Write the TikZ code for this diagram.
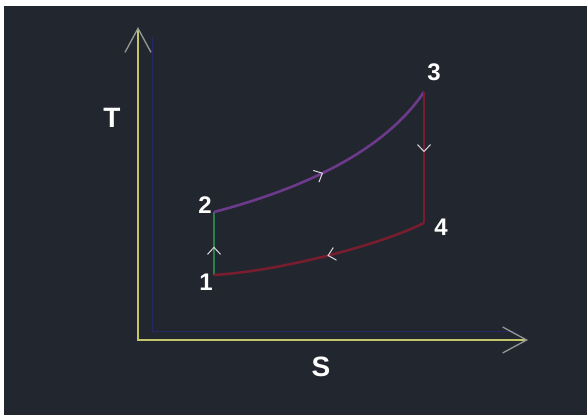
\documentclass[tikz,border=0pt]{standalone}
\usepackage{fontspec}
\setmainfont{Liberation Sans}
\usetikzlibrary{arrows.meta,decorations.markings}
\definecolor{boardbg}{RGB}{34,38,46}
\definecolor{axisyellow}{RGB}{196,196,104}
\definecolor{tipgray}{RGB}{150,152,150}
\definecolor{shadowblue}{RGB}{36,40,100}
\definecolor{heatpurple}{RGB}{108,58,138}
\definecolor{coolred}{RGB}{118,30,46}
\definecolor{pumpgreen}{RGB}{40,130,72}
\definecolor{marktip}{RGB}{225,215,225}

\begin{document}
\begin{tikzpicture}[
  x=1pt,y=1pt,
  axis/.style={draw=axisyellow,line width=1.3pt},
  axistip/.style={{Straight Barb[length=24pt,width=26pt,color=tipgray,line width=1.3pt]}-{Straight Barb[length=24pt,width=26pt,color=tipgray,line width=1.3pt]}},
  process/.style={line width=2.6pt},
  midarrow/.style={postaction={decorate},decoration={markings,
    mark=at position #1 with {\arrow[marktip,line width=1pt]{Straight Barb[length=7pt,width=13pt]}}}},
  lbl/.style={text=white,font=\fontsize{24}{24}\selectfont\bfseries,inner sep=0pt},
  axlbl/.style={text=white,font=\fontsize{28}{28}\selectfont\bfseries,inner sep=0pt}
]
\useasboundingbox (0,0) rectangle (587,417);
\fill[white] (0,0) rectangle (587,417);
\fill[boardbg] (4,2) rectangle (587,411);

% axes
\coordinate (o) at (138,77);
\coordinate (tmax) at (138,390);
\coordinate (smax) at (528,77);
\draw[shadowblue,line width=1pt] (152,380) -- (152,85) -- (515,85);
\draw[axis,axistip] (tmax) -- (o) -- (smax);
\node[axlbl] (tlabel) at (112,299) {T};
\node[axlbl] (slabel) at (321,50) {S};

% state points
\coordinate (p1) at (214,142);
\coordinate (p2) at (214,205);
\coordinate (p3) at (424,325);
\coordinate (p4) at (424,194);
\node[lbl] (n1) at (206,135) {1};
\node[lbl] (n2) at (205,212) {2};
\node[lbl] (n3) at (434,345) {3};
\node[lbl] (n4) at (441,190) {4};

% processes
\draw[process,pumpgreen,line width=1.6pt,midarrow=0.45] (p1) -- (p2);
\draw[process,heatpurple,midarrow=0.47] (p2) .. controls (290,225) and (380,260) .. (p3);
\draw[process,coolred,midarrow=0.46] (p3) -- (p4);
\draw[process,coolred,midarrow=0.47] (p4) .. controls (380,172) and (280,146) .. (p1);
\end{tikzpicture}
\end{document}
